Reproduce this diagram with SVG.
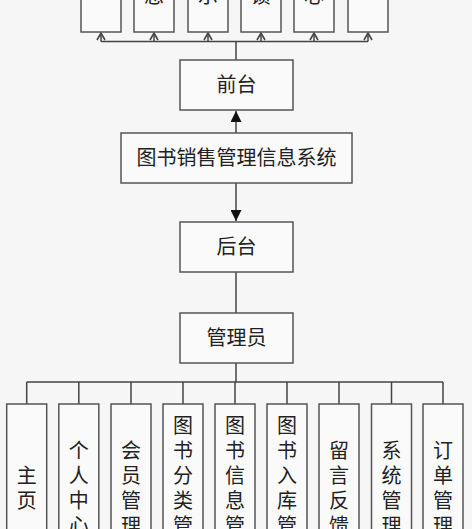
<svg xmlns="http://www.w3.org/2000/svg" width="472" height="529" viewBox="0 0 472 529">
<defs>
<style>
.bg{fill:#f6f6f6}
.box{fill:#fafafa;stroke:#555;stroke-width:1.5}
.ln{fill:none;stroke:#444;stroke-width:1.5}
.t{font-family:"Liberation Sans","Noto Sans CJK SC",sans-serif;font-size:20px;fill:#222;text-anchor:middle;dominant-baseline:central}
</style>
<marker id="open" viewBox="0 0 10 10" refX="9" refY="5" markerWidth="10" markerHeight="10" markerUnits="userSpaceOnUse" orient="auto">
<path d="M2,1 L9,5 L2,9" fill="none" stroke="#444" stroke-width="1.6"/>
</marker>
<marker id="fill" viewBox="0 0 10 10" refX="10" refY="5" markerWidth="11" markerHeight="11" markerUnits="userSpaceOnUse" orient="auto">
<path d="M0,0 L10,5 L0,10 Z" fill="#111"/>
</marker>
</defs>
<rect class="bg" x="0" y="0" width="472" height="529"/>
<g id="connectors">
<path class="ln" d="M236,60 V41.5 M101,41.5 H368"/>
<path class="ln" d="M101,41.5 V33" marker-end="url(#open)"/>
<path class="ln" d="M154,41.5 V33" marker-end="url(#open)"/>
<path class="ln" d="M208,41.5 V33" marker-end="url(#open)"/>
<path class="ln" d="M261,41.5 V33" marker-end="url(#open)"/>
<path class="ln" d="M314,41.5 V33" marker-end="url(#open)"/>
<path class="ln" d="M368,41.5 V33" marker-end="url(#open)"/>
<path class="ln" d="M236,133 V111" marker-end="url(#fill)"/>
<path class="ln" d="M236,183 V221" marker-end="url(#fill)"/>
<path class="ln" d="M236,272 V313"/>
<path class="ln" d="M236,363 V382 M26.7,382 H443 M26.7,382 V404 M78.8,382 V404 M131,382 V404 M183,382 V404 M235,382 V404 M287,382 V404 M339,382 V404 M391.5,382 V404 M443,382 V404"/>
</g>
<g id="f1"><rect class="box" x="81" y="-136" width="40" height="168"/></g>
<g id="f2"><rect class="box" x="134" y="-136" width="40" height="168"/><text class="t" x="154" y="-4">息</text></g>
<g id="f3"><rect class="box" x="188" y="-136" width="40" height="168"/><text class="t" x="208" y="-4">示</text></g>
<g id="f4"><rect class="box" x="241" y="-136" width="40" height="168"/><text class="t" x="261" y="-4">馈</text></g>
<g id="f5"><rect class="box" x="294" y="-136" width="40" height="168"/><text class="t" x="314" y="-4">心</text></g>
<g id="f6"><rect class="box" x="348" y="-136" width="40" height="168"/></g>
<g id="qiantai"><rect class="box" x="180" y="60" width="113" height="50"/><text class="t" x="236.5" y="85">前台</text></g>
<g id="system"><rect class="box" x="121" y="133" width="231" height="50"/><text class="t" x="236.5" y="158">图书销售管理信息系统</text></g>
<g id="houtai"><rect class="box" x="180" y="222" width="113" height="50"/><text class="t" x="236.5" y="247">后台</text></g>
<g id="admin"><rect class="box" x="180" y="313" width="113" height="50"/><text class="t" x="236.5" y="338">管理员</text></g>
<g id="b1"><rect class="box" x="6.7" y="404" width="40" height="168"/><text class="t"><tspan x="26.7" y="475.5">主</tspan><tspan x="26.7" dy="25">页</tspan></text></g>
<g id="b2"><rect class="box" x="58.8" y="404" width="40" height="168"/><text class="t"><tspan x="78.8" y="450.5">个</tspan><tspan x="78.8" dy="25">人</tspan><tspan x="78.8" dy="25">中</tspan><tspan x="78.8" dy="25">心</tspan></text></g>
<g id="b3"><rect class="box" x="111" y="404" width="40" height="168"/><text class="t"><tspan x="131" y="450.5">会</tspan><tspan x="131" dy="25">员</tspan><tspan x="131" dy="25">管</tspan><tspan x="131" dy="25">理</tspan></text></g>
<g id="b4"><rect class="box" x="163" y="404" width="40" height="168"/><text class="t"><tspan x="183" y="425.5">图</tspan><tspan x="183" dy="25">书</tspan><tspan x="183" dy="25">分</tspan><tspan x="183" dy="25">类</tspan><tspan x="183" dy="25">管</tspan></text></g>
<g id="b5"><rect class="box" x="215" y="404" width="40" height="168"/><text class="t"><tspan x="235" y="425.5">图</tspan><tspan x="235" dy="25">书</tspan><tspan x="235" dy="25">信</tspan><tspan x="235" dy="25">息</tspan><tspan x="235" dy="25">管</tspan></text></g>
<g id="b6"><rect class="box" x="267" y="404" width="40" height="168"/><text class="t"><tspan x="287" y="425.5">图</tspan><tspan x="287" dy="25">书</tspan><tspan x="287" dy="25">入</tspan><tspan x="287" dy="25">库</tspan><tspan x="287" dy="25">管</tspan></text></g>
<g id="b7"><rect class="box" x="319" y="404" width="40" height="168"/><text class="t"><tspan x="339" y="450.5">留</tspan><tspan x="339" dy="25">言</tspan><tspan x="339" dy="25">反</tspan><tspan x="339" dy="25">馈</tspan></text></g>
<g id="b8"><rect class="box" x="371.5" y="404" width="40" height="168"/><text class="t"><tspan x="391.5" y="450.5">系</tspan><tspan x="391.5" dy="25">统</tspan><tspan x="391.5" dy="25">管</tspan><tspan x="391.5" dy="25">理</tspan></text></g>
<g id="b9"><rect class="box" x="423" y="404" width="40" height="168"/><text class="t"><tspan x="443" y="450.5">订</tspan><tspan x="443" dy="25">单</tspan><tspan x="443" dy="25">管</tspan><tspan x="443" dy="25">理</tspan></text></g>
</svg>
